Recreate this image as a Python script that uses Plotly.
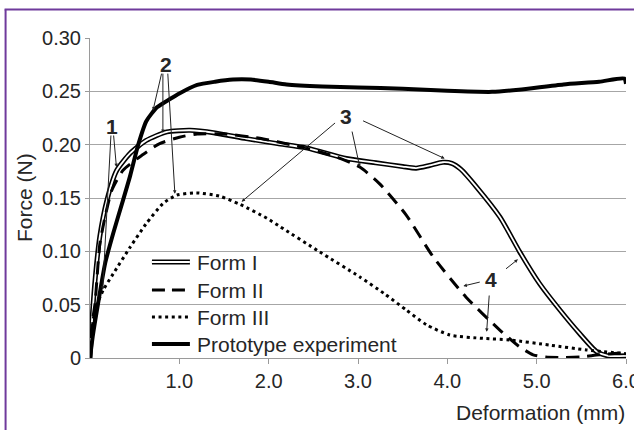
import plotly.graph_objects as go

# ---------------- data ----------------
form1_x = [0, 0.02, 0.06, 0.11, 0.19, 0.30, 0.45, 0.63, 0.86, 1.12, 1.4, 1.75, 2.1, 2.42, 2.87, 3.2,
           3.5, 3.65, 3.8, 3.95, 4.05, 4.15, 4.33, 4.59, 4.81, 5.03, 5.26, 5.48, 5.67, 5.8, 6.0]
form1_y = [0, 0.032, 0.076, 0.114, 0.148, 0.176, 0.192, 0.204, 0.212, 0.2135, 0.211, 0.2057, 0.201,
           0.197, 0.187, 0.183, 0.1795, 0.178, 0.1805, 0.1835, 0.1825, 0.177, 0.160, 0.132, 0.0995,
           0.07, 0.045, 0.023, 0.006, 0.002, 0.002]

form2_x = [0, 0.02, 0.056, 0.11, 0.168, 0.243, 0.37, 0.58, 0.78, 1.0, 1.2, 1.5, 1.9, 2.3, 2.5, 2.76,
           3.02, 3.24, 3.54, 3.84, 4.21, 4.59, 4.8, 4.96, 5.1, 5.3, 5.5, 5.7, 6.0]
form2_y = [0, 0.03, 0.051, 0.107, 0.132, 0.157, 0.176, 0.19, 0.201, 0.207, 0.21, 0.21, 0.206, 0.199,
           0.195, 0.1885, 0.179, 0.1635, 0.134, 0.095, 0.057, 0.026, 0.011, 0.003, 0.001, 0.0005,
           0.001, 0.003, 0.005]

form3_x = [0, 0.02, 0.056, 0.15, 0.26, 0.45, 0.63, 0.82, 0.97, 1.19, 1.45, 1.68, 1.98, 2.13, 2.57,
           3.02, 3.3, 3.54, 3.77, 4.03, 4.4, 4.7, 5.15, 5.56, 6.0]
form3_y = [0, 0.025, 0.045, 0.064, 0.079, 0.104, 0.126, 0.145, 0.1526, 0.1548, 0.1517, 0.144, 0.131,
           0.123, 0.0995, 0.076, 0.06, 0.045, 0.031, 0.0215, 0.0184, 0.0169, 0.012, 0.0075, 0.004]

proto_x = [0, 0.03, 0.09, 0.17, 0.26, 0.37, 0.45, 0.54, 0.63, 0.75, 0.9, 1.0, 1.2, 1.4, 1.6, 1.8,
           2.0, 2.2, 2.6, 3.0, 3.5, 4.0, 4.5, 4.8, 5.3, 5.7, 5.98, 6.0]
proto_y = [0, 0.02, 0.051, 0.089, 0.117, 0.148, 0.171, 0.2, 0.222, 0.235, 0.243, 0.248, 0.256,
           0.259, 0.261, 0.261, 0.259, 0.2565, 0.2545, 0.2535, 0.2525, 0.2505, 0.2495, 0.2515,
           0.2565, 0.259, 0.262, 0.257]

legend_names = ["Form I", "Form II", "Form III", "Prototype experiment"]
x_tick_vals = [1, 2, 3, 4, 5, 6]
x_tick_text = ["1.0", "2.0", "3.0", "4.0", "5.0", "6.0"]
y_tick_vals = [0, 0.05, 0.10, 0.15, 0.20, 0.25, 0.30]
y_tick_text = ["0", "0.05", "0.10", "0.15", "0.20", "0.25", "0.30"]

# callout labels: (label, text_x, text_y, [(tail_x, tail_y, head_x, head_y), ...])
callouts = [
    ("1", 0.243, 0.2168, [(0.235, 0.210, 0.142, 0.064), (0.263, 0.210, 0.296, 0.179)]),
    ("2", 0.847, 0.275, [(0.805, 0.268, 0.705, 0.232), (0.816, 0.268, 0.816, 0.211),
                          (0.87, 0.268, 0.95, 0.154)]),
    ("3", 2.864, 0.226, [(2.76, 0.2215, 1.697, 0.1465), (2.93, 0.2137, 3.02, 0.179),
                          (3.04, 0.223, 3.97, 0.187)]),
    ("4", 4.49, 0.074, [(4.64, 0.0825, 4.79, 0.0925), (4.38, 0.0715, 4.18, 0.0675),
                         (4.47, 0.060, 4.44, 0.0246)]),
]

FONT = "Liberation Sans, Arial, sans-serif"
TXT = "#262626"

fig = go.Figure()
fig.add_trace(go.Scatter(x=form1_x, y=form1_y, mode="lines", line=dict(color="black", width=5, shape="spline", smoothing=0.6), showlegend=False, hoverinfo="skip"))
fig.add_trace(go.Scatter(x=form1_x, y=form1_y, mode="lines", line=dict(color="white", width=1.8, shape="spline", smoothing=0.6), showlegend=False, hoverinfo="skip"))
fig.add_trace(go.Scatter(x=form2_x, y=form2_y, mode="lines", line=dict(color="black", width=3, dash="13px,8px", shape="spline", smoothing=0.6), showlegend=False))
fig.add_trace(go.Scatter(x=form3_x, y=form3_y, mode="lines", line=dict(color="black", width=3, dash="3px,3.6px", shape="spline", smoothing=0.6), showlegend=False))
fig.add_trace(go.Scatter(x=proto_x, y=proto_y, mode="lines", line=dict(color="black", width=4, shape="spline", smoothing=0.6), showlegend=False))

W_PLOT = 634 - 90 - 7.5
H_PLOT = 320.0

def px2paper_x(px):
    return (px - 90) / W_PLOT

def px2paper_y(py):
    return (358 - py) / H_PLOT

shapes = []
# manual legend samples
rows_py = [262, 290, 317, 344]
lx0, lx1 = px2paper_x(152), px2paper_x(190)
styles = [
    [dict(color="black", width=5), dict(color="white", width=1.8)],
    [dict(color="black", width=3, dash="13px,7px")],
    [dict(color="black", width=3, dash="3px,3.6px")],
    [dict(color="black", width=4)],
]
annotations = []
for name, py, st in zip(legend_names, rows_py, styles):
    yy = px2paper_y(py)
    for s in st:
        shapes.append(dict(type="line", xref="paper", yref="paper", x0=lx0, x1=lx1, y0=yy, y1=yy, line=s))
    annotations.append(dict(xref="paper", yref="paper", x=px2paper_x(195), y=yy, text=name,
                            showarrow=False, xanchor="left", yanchor="middle",
                            font=dict(family=FONT, size=21, color=TXT)))

# purple frame (left and top edges visible; right/bottom lie outside the picture)
shapes.append(dict(type="line", xref="paper", yref="paper", x0=px2paper_x(5.5), x1=px2paper_x(5.5),
                   y0=px2paper_y(9.5), y1=px2paper_y(440), line=dict(color="#6f3a9c", width=2)))
shapes.append(dict(type="line", xref="paper", yref="paper", x0=px2paper_x(4.5), x1=px2paper_x(640),
                   y0=px2paper_y(9.5), y1=px2paper_y(9.5), line=dict(color="#6f3a9c", width=2)))

# callouts
for lab, tx, ty, lines in callouts:
    annotations.append(dict(x=tx, y=ty, xref="x", yref="y", text="<b>%s</b>" % lab, showarrow=False,
                            font=dict(family=FONT, size=21, color=TXT)))
    for (ax_, ay_, hx, hy) in lines:
        annotations.append(dict(x=hx, y=hy, ax=ax_, ay=ay_, xref="x", yref="y", axref="x", ayref="y",
                                text="", showarrow=True, arrowhead=2, arrowsize=0.7, arrowwidth=1,
                                arrowcolor="#222"))

# axis titles
annotations.append(dict(xref="paper", yref="paper", x=1, y=0, xanchor="right", yanchor="middle",
                        yshift=-54, xshift=1, text="Deformation (mm)", showarrow=False,
                        font=dict(family=FONT, size=21, color=TXT)))
annotations.append(dict(xref="paper", yref="paper", x=0, y=0.5, xanchor="center", yanchor="middle",
                        xshift=-66, text="Force (N)", textangle=-90, showarrow=False,
                        font=dict(family=FONT, size=21, color=TXT)))

fig.update_layout(
    width=634, height=430,
    margin=dict(l=90, r=7.5, t=38, b=72, pad=0),
    paper_bgcolor="white", plot_bgcolor="white",
    font=dict(family=FONT, size=20, color=TXT),
    shapes=shapes, annotations=annotations,
    showlegend=False,
)
fig.update_xaxes(range=[0, 6], tickvals=x_tick_vals, ticktext=x_tick_text, showgrid=False,
                 showline=True, linecolor="#9a9a9a", linewidth=1, ticks="outside", ticklen=5,
                 tickcolor="#9a9a9a", ticklabelstandoff=0, zeroline=False, automargin=False,
                 ticklabeloverflow="allow",
                 tickfont=dict(family=FONT, size=20, color=TXT))
fig.update_yaxes(range=[0, 0.30], tickvals=y_tick_vals, ticktext=y_tick_text, showgrid=True,
                 gridcolor="#a6a6a6", gridwidth=1, showline=True, linecolor="#9a9a9a",
                 linewidth=1, ticks="outside", ticklen=4, tickcolor="#9a9a9a", automargin=False,
                 ticklabelstandoff=0, zeroline=False, ticklabeloverflow="allow",
                 tickfont=dict(family=FONT, size=20, color=TXT))

fig.write_html("out.html", config={"displayModeBar": False},
               post_script="document.body.style.margin='0';document.body.style.overflow='hidden';")
